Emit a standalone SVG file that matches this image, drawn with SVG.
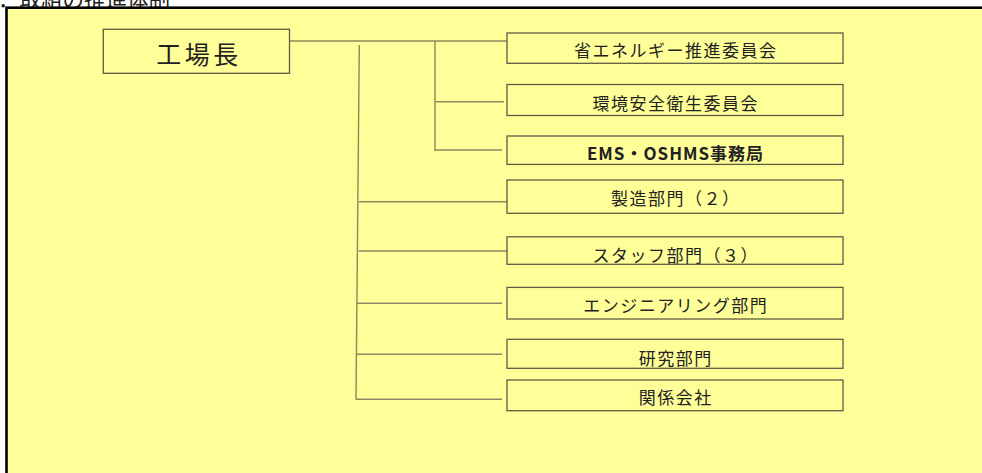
<svg xmlns="http://www.w3.org/2000/svg" width="982" height="473" viewBox="0 0 982 473">
<style>
.box{fill:#ffff99;stroke:#5c5c44;stroke-width:1.3}
.lbl{font-family:"Noto Sans CJK JP","Noto Sans",sans-serif;font-size:17px;fill:#222;text-anchor:middle;dominant-baseline:central;letter-spacing:1.5px}
.con{stroke:#8a8a5e;stroke-width:1.4;fill:none}
</style>
<rect width="982" height="473" fill="#ffffff"/>
<text x="-2" y="7" font-family="'Noto Sans CJK JP','Noto Sans',sans-serif" font-size="21.5" fill="#222">．取組の推進体制</text>
<rect x="6.5" y="7.7" width="1000" height="500" fill="#ffff99" stroke="#000" stroke-width="2.6"/>
<g id="connectors">
<path class="con" d="M290 41 H507"/>
<path class="con" d="M435 41 V151"/>
<path class="con" d="M435 101.7 H504"/>
<path class="con" d="M435 150 H502"/>
<path class="con" d="M359.3 45 L356 399.5"/>
<path class="con" d="M359 201.7 H507"/>
<path class="con" d="M358.5 251 H507"/>
<path class="con" d="M357 303.3 H502"/>
<path class="con" d="M356.5 354.3 H502"/>
<path class="con" d="M356 399.3 H502"/>
</g>
<g id="n0"><rect class="box" x="103.3" y="29.3" width="186.2" height="44"/><text class="lbl" x="199" y="53" style="font-size:25px;letter-spacing:3.5px">工場長</text></g>
<g id="n1"><rect class="box" x="507" y="33" width="336" height="30.3"/><text class="lbl" x="675.7" y="49.5">省エネルギー推進委員会</text></g>
<g id="n2"><rect class="box" x="507" y="84.5" width="336" height="31"/><text class="lbl" x="675.7" y="102.5">環境安全衛生委員会</text></g>
<g id="n3"><rect class="box" x="507" y="136" width="336" height="28.4"/><text class="lbl" x="675.5" y="152.5" style="font-weight:bold;letter-spacing:1px">EMS・OSHMS事務局</text></g>
<g id="n4"><rect class="box" x="507" y="180" width="336" height="33.3"/><text class="lbl" x="675.7" y="197.5">製造部門（２）</text></g>
<g id="n5"><rect class="box" x="507" y="236.8" width="336" height="27.5"/><text class="lbl" x="675.7" y="254">スタッフ部門（３）</text></g>
<g id="n6"><rect class="box" x="507" y="287.4" width="336" height="31.6"/><text class="lbl" x="675.7" y="304.7">エンジニアリング部門</text></g>
<g id="n7"><rect class="box" x="507" y="339.3" width="336" height="29"/><text class="lbl" x="675.7" y="357">研究部門</text></g>
<g id="n8"><rect class="box" x="507" y="380" width="336" height="30.7"/><text class="lbl" x="675.7" y="396">関係会社</text></g>
</svg>
